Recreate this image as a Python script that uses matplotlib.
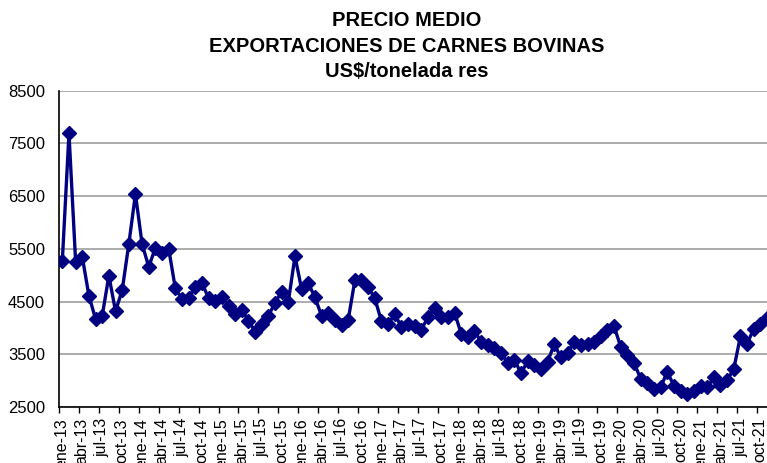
import numpy as np
import matplotlib.pyplot as plt
from matplotlib.ticker import FixedLocator, NullFormatter, FixedFormatter

# Precio medio de exportacion de carne bovina, US$/tonelada res, mensual desde ene-13
month_names = ['ene', 'feb', 'mar', 'abr', 'may', 'jun', 'jul', 'ago', 'sep', 'oct', 'nov', 'dic']
periods = [f"{m}-{y:02d}" for y in range(13, 22) for m in month_names][:107]

precio = [5270, 7690, 5260, 5350, 4610, 4170, 4230, 4990, 4320, 4710, 5590, 6540,
          5590, 5160, 5520, 5430, 5500, 4750, 4550, 4560, 4780, 4860, 4560, 4510,
          4590, 4410, 4270, 4340, 4140, 3930, 4080, 4230, 4480, 4690, 4500, 5360,
          4730, 4850, 4580, 4230, 4280, 4150, 4060, 4150, 4900, 4910, 4780, 4560,
          4130, 4070, 4260, 4020, 4070, 4040, 3970, 4200, 4380, 4200, 4200, 4290,
          3890, 3820, 3940, 3740, 3680, 3620, 3520, 3340, 3400, 3140, 3370, 3300,
          3220, 3360, 3690, 3440, 3520, 3740, 3680, 3690, 3740, 3850, 3960, 4030,
          3640, 3490, 3330, 3040, 2950, 2850, 2870, 3170, 2900, 2810, 2750, 2810,
          2900, 2870, 3060, 2920, 3010, 3220, 3840, 3700, 3980, 4080, 4180]

y_ticks = [2500, 3500, 4500, 5500, 6500, 7500, 8500]

plt.rcParams['font.family'] = ['Liberation Sans', 'DejaVu Sans']

fig = plt.figure(figsize=(7.67, 4.63), dpi=100)
ax = fig.add_axes([59 / 767, 1 - 407 / 463, 1 - 59 / 767, (407 - 90.7) / 463])

x = np.arange(len(precio))
ax.plot(x, precio, color='#000080', linewidth=2.4, marker='D', markersize=7,
        markerfacecolor='#000080', markeredgecolor='#000080', zorder=3)

ax.set_ylim(2500, 8500)
ax.set_yticks(y_ticks)
ax.set_yticklabels([str(v) for v in y_ticks])
ax.yaxis.grid(True, color='#a6a6a6', linewidth=1.3)
ax.set_axisbelow(True)
ax.tick_params(axis='y', length=0, pad=10, labelsize=12)

ax.set_xlim(-0.5, 106.0)
# ticks on category boundaries, labels on category centres every 3 months
ax.xaxis.set_major_locator(FixedLocator(np.arange(-0.5, 107, 3)))
ax.xaxis.set_major_formatter(NullFormatter())
label_pos = np.arange(0, len(periods), 3)
ax.xaxis.set_minor_locator(FixedLocator(label_pos))
ax.xaxis.set_minor_formatter(FixedFormatter([periods[i] for i in label_pos]))
ax.tick_params(axis='x', which='major', length=4, width=1, direction='out')
ax.tick_params(axis='x', which='minor', length=0, pad=8, labelsize=11.5, labelrotation=90)

for side in ['top', 'right']:
    ax.spines[side].set_visible(False)
for side in ['left', 'bottom']:
    ax.spines[side].set_linewidth(1.2)
    ax.spines[side].set_color('black')

fig.text(407 / 767, 1 - 46 / 463,
         "PRECIO MEDIO\nEXPORTACIONES DE CARNES BOVINAS\nUS$/tonelada res",
         ha='center', va='center', fontsize=14.5, fontweight='bold', linespacing=1.42)

fig.savefig('out.png', dpi=100)
